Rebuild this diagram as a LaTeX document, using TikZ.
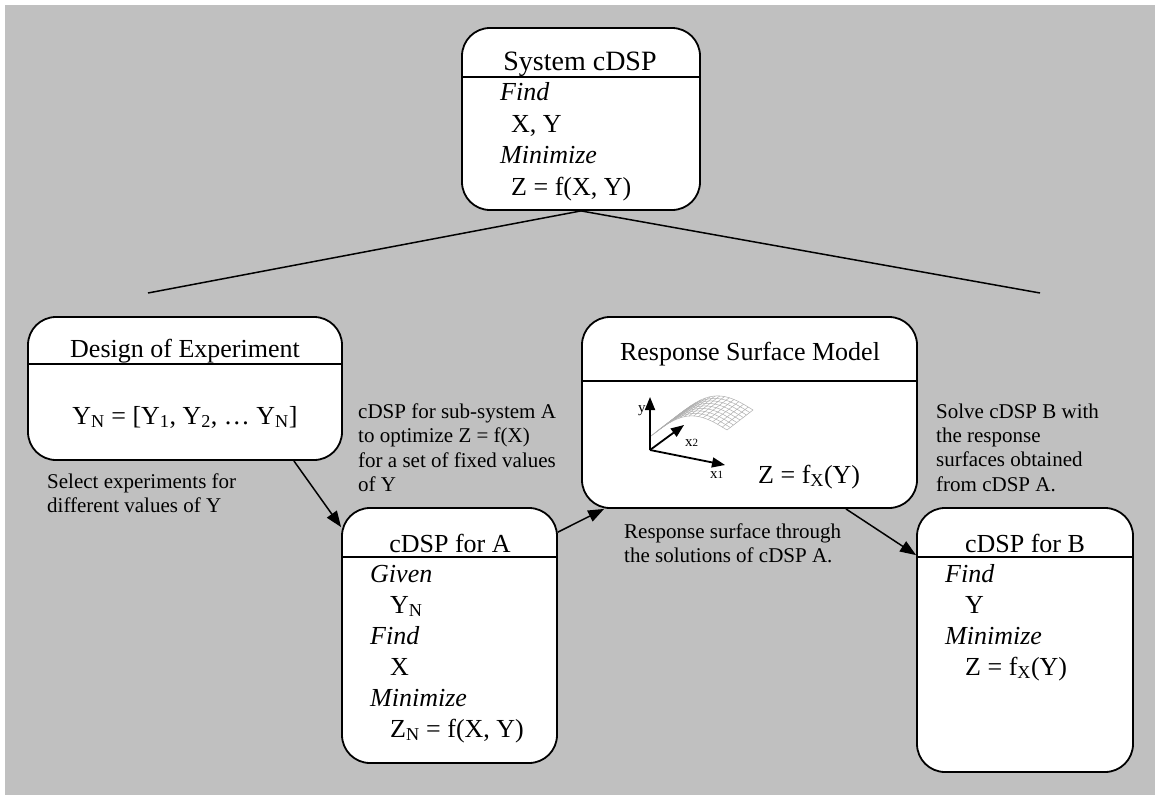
\documentclass[tikz,border=0pt]{standalone}
\usepackage{fontspec}
\setmainfont{Liberation Serif}
\usetikzlibrary{arrows.meta,calc}

\definecolor{panel}{RGB}{192,192,192}
\definecolor{meshgray}{RGB}{175,175,175}

\tikzset{
  box/.style={draw, line width=1.8pt, fill=white, rounded corners=28pt, inner sep=0pt},
  divider/.style={line width=1.8pt},
  head/.style={anchor=base, inner sep=0pt, font=\fontsize{26}{31}\selectfont},
  body/.style={anchor=base west, inner sep=0pt, font=\fontsize{26}{31}\selectfont},
  kw/.style={anchor=base west, inner sep=0pt, font=\fontsize{26}{31}\selectfont\itshape},
  note/.style={anchor=north west, inner sep=0pt, align=left, font=\fontsize{21}{24.3}\selectfont},
  flow/.style={line width=1.5pt, -{Triangle[length=16pt,width=12pt]}},
  branch/.style={line width=1.5pt},
  axis/.style={line width=1.8pt, -{Triangle[length=13pt,width=10pt]}},
  axlabel/.style={anchor=base west, inner sep=0pt, font=\fontsize{15}{15}\selectfont},
}

\begin{document}
\begin{tikzpicture}[x=1pt,y=-1pt]
  \useasboundingbox (0,0) rectangle (1155,795);
  \fill[panel] (5,5) rectangle (1155,795);

  % ---- boxes ----
  \node[box, minimum width=238pt, minimum height=182pt] (sys)   at (581,119) {};
  \node[box, minimum width=314pt, minimum height=143pt] (doe)   at (185,388.5) {};
  \node[box, minimum width=215pt, minimum height=255pt] (cdspa) at (449.5,635.5) {};
  \node[box, minimum width=335pt, minimum height=191pt] (rsm)   at (749.5,412.5) {};
  \node[box, minimum width=216pt, minimum height=264pt] (cdspb) at (1025,640) {};

  % header dividers
  \draw[divider] (sys.west |- 0,77)    -- (sys.east |- 0,77);
  \draw[divider] (doe.west |- 0,364)   -- (doe.east |- 0,364);
  \draw[divider] (cdspa.west |- 0,557) -- (cdspa.east |- 0,557);
  \draw[divider] (rsm.west |- 0,381)   -- (rsm.east |- 0,381);
  \draw[divider] (cdspb.west |- 0,557) -- (cdspb.east |- 0,557);

  % ---- System cDSP ----
  \node[head, font=\fontsize{28}{31}\selectfont] (sysh) at (580,70) {System cDSP};
  \node[kw]   (sys1) at (500,100) {Find};
  \node[body] (sys2) at (511,132) {X, Y};
  \node[kw]   (sys3) at (500,163) {Minimize};
  \node[body] (sys4) at (511,195) {Z = f(X, Y)};

  % ---- Design of Experiment ----
  \node[head] (doeh) at (185,357) {Design of Experiment};
  \node[head] (doe1) at (185,424) {Y\textsubscript{N} = [Y\textsubscript{1}, Y\textsubscript{2}, … Y\textsubscript{N}]};

  % ---- cDSP for A ----
  \node[head] (cah) at (450,552) {cDSP for A};
  \node[kw]   (ca1) at (370,582) {Given};
  \node[body] (ca2) at (390,613) {Y\textsubscript{N}};
  \node[kw]   (ca3) at (370,644) {Find};
  \node[body] (ca4) at (390,675) {X};
  \node[kw]   (ca5) at (370,706) {Minimize};
  \node[body] (ca6) at (390,737) {Z\textsubscript{N} = f(X, Y)};

  % ---- Response Surface Model ----
  \node[head] (rsmh) at (750,360) {Response Surface Model};
  \node[body] (rsm1) at (758,483) {Z = f\textsubscript{X}(Y)};

  % response surface sketch: mesh dome
  \foreach \v in {0,0.125,...,1.01}
    \draw[meshgray, line width=0.5pt] plot[domain=0:1, samples=20, smooth]
      ({651+76*\x+26*\v},{436-6*\x-20*\v-17*sin(180*\x)});
  \foreach \u in {0,0.0625,...,1.01}
    \draw[meshgray, line width=0.5pt] plot[domain=0:1, samples=3]
      ({651+76*\u+26*\x},{436-6*\u-20*\x-17*sin(180*\u)});
  \coordinate (org) at (650,450);
  \coordinate (ytip) at (650,397);
  \coordinate (x1tip) at (725,465);
  \coordinate (x2tip) at (684,425);
  \draw[axis] (org) -- (ytip);
  \draw[axis] (org) -- (x1tip);
  \draw[axis] (org) -- (x2tip);
  \node[axlabel] (ylab)  at (638,412) {y};
  \node[axlabel] (x1lab) at (710,478) {x{\fontsize{11}{11}\selectfont 1}};
  \node[axlabel] (x2lab) at (685,446) {x{\fontsize{11}{11}\selectfont 2}};

  % ---- cDSP for B ----
  \node[head] (cbh) at (1025,552) {cDSP for B};
  \node[kw]   (cb1) at (945,582) {Find};
  \node[body] (cb2) at (965,613) {Y};
  \node[kw]   (cb3) at (945,644) {Minimize};
  \node[body] (cb4) at (965,675) {Z = f\textsubscript{X}(Y)};

  % ---- annotations ----
  \node[note] (n1) at (47,473.5)  {Select experiments for\\different values of Y};
  \node[note] (n2) at (358,403.5) {cDSP for sub-system A\\to optimize Z = f(X)\\for a set of fixed values\\of Y};
  \node[note] (n3) at (624,523.5) {Response surface through\\the solutions of cDSP A.};
  \node[note] (n4) at (936,403.5) {Solve cDSP B with\\the response\\surfaces obtained\\from cDSP A.};

  % ---- decomposition lines ----
  \coordinate (leftend) at (148,293);
  \coordinate (rightend) at (1040,293);
  \draw[branch] (sys.south) -- (leftend);
  \draw[branch] (sys.south) -- (rightend);

  % ---- flow arrows ----
  \draw[flow] ([xshift=-49pt]doe.south east) -- ([yshift=-20pt]cdspa.north west);
  \draw[flow] ([yshift=-25pt]cdspa.north east) -- ([xshift=23pt]rsm.south west);
  \draw[flow] ([xshift=-72pt]rsm.south east) -- ([yshift=-48pt]cdspb.north west);
\end{tikzpicture}
\end{document}
